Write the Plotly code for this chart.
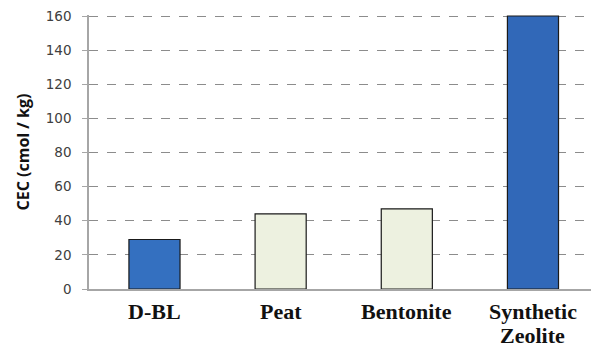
import plotly.graph_objects as go

# Cation exchange capacity of the four sorbents
materials = ["D-BL", "Peat", "Bentonite", "Synthetic\nZeolite"]
cec_values = [29, 44, 47, 160]
bar_colors = ["#3470c0", "#edf1e0", "#edf1e0", "#3168b8"]
y_ticks = [0, 20, 40, 60, 80, 100, 120, 140, 160]

fig = go.Figure(
    go.Bar(
        x=materials,
        y=cec_values,
        width=0.405,
        marker=dict(color=bar_colors, line=dict(color="#1a1a1a", width=1.2)),
    )
)

# Category labels: one annotation per text line so the line spacing can be set
label_font = dict(family="Liberation Serif", size=22, color="#111111", weight="bold")
for name in materials:
    for i, line in enumerate(name.split("\n")):
        fig.add_annotation(
            x=name,
            xref="x",
            y=0,
            yref="paper",
            text=line,
            showarrow=False,
            xanchor="center",
            yanchor="middle",
            borderpad=0,
            yshift=-22 - 24 * i,
            font=label_font,
        )

fig.update_layout(
    width=591,
    height=348,
    margin=dict(l=89, r=0, t=15, b=59),
    paper_bgcolor="white",
    plot_bgcolor="white",
    showlegend=False,
)

fig.update_xaxes(
    range=[-0.519, 3.46],
    automargin=False,
    showline=True,
    linecolor="#a6a6a6",
    linewidth=1.5,
    showgrid=False,
    ticks="",
    showticklabels=False,
)

fig.update_yaxes(
    range=[0, 160.6],
    automargin=False,
    tickvals=y_ticks,
    showline=True,
    linecolor="#a6a6a6",
    linewidth=1.5,
    ticks="outside",
    ticklen=5,
    tickcolor="#a6a6a6",
    ticklabelstandoff=8,
    showgrid=True,
    gridcolor="#8c8c8c",
    griddash="dash",
    gridwidth=1,
    zeroline=False,
    tickfont=dict(family="DejaVu Sans", size=13.5, color="#404040"),
    title=dict(
        text="<b>CEC (cmol / kg)</b>",
        font=dict(family="Open Sans", size=16, color="#111111"),
        standoff=12,
    ),
)

fig.write_html("out.html")
